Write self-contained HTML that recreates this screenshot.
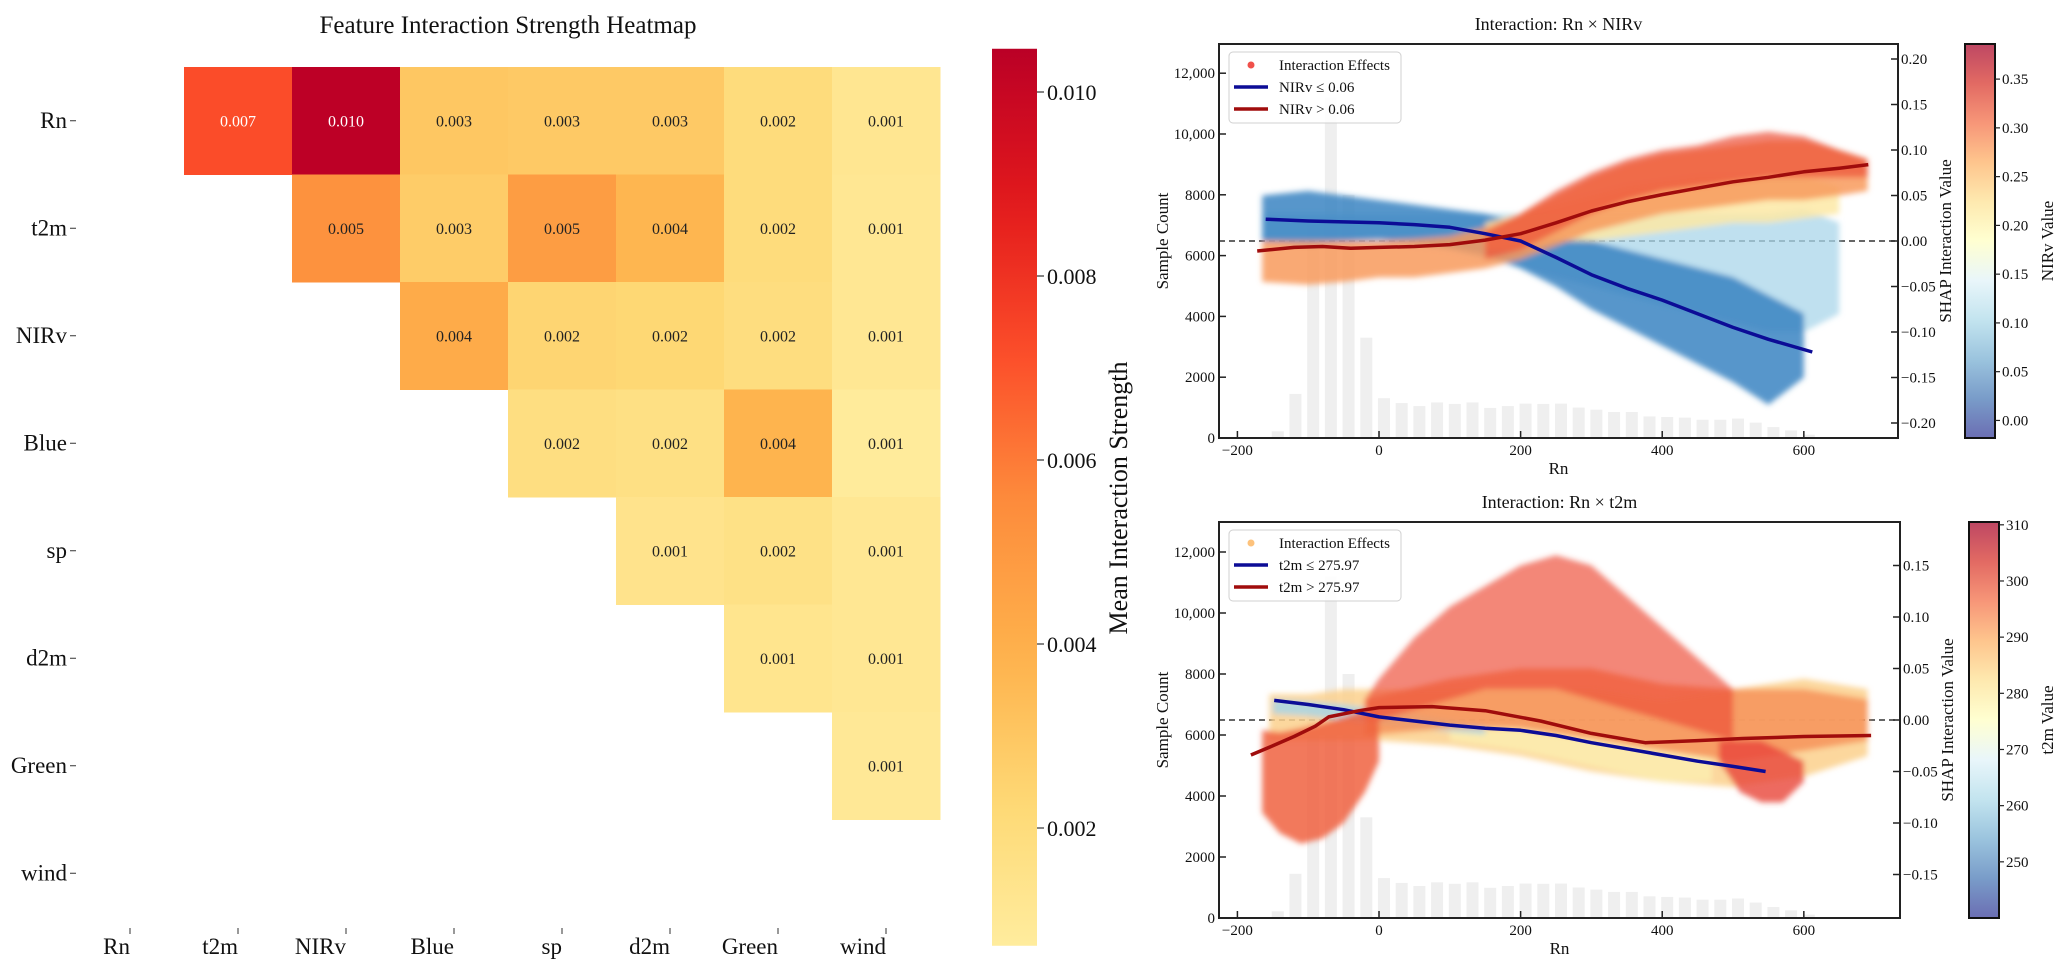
<!DOCTYPE html>
<html><head><meta charset="utf-8">
<style>
body{margin:0;background:#fff;}
svg{display:block;font-family:"Liberation Serif","DejaVu Serif",serif;}
</style></head>
<body>
<svg id="fig" width="2069" height="974" viewBox="0 0 2069 974">
<defs>
<filter id="soft" x="-5%" y="-5%" width="110%" height="110%"><feGaussianBlur stdDeviation="3"/></filter>
<linearGradient id="hmgrad" x1="0" y1="1" x2="0" y2="0"></linearGradient>
<linearGradient id="nirvgrad" x1="0" y1="1" x2="0" y2="0"></linearGradient>
<linearGradient id="t2mgrad" x1="0" y1="1" x2="0" y2="0"></linearGradient>
</defs>
</svg>
<script>
// ---------------- DATA ----------------
const hmFeatures = ['Rn','t2m','NIRv','Blue','sp','d2m','Green','wind'];
const hmRowRn    = [null,0.0072,0.0104,0.0030,0.0029,0.0029,0.0020,0.0012];
const hmRowT2m   = [null,null,0.0053,0.0028,0.0048,0.0037,0.0020,0.0011];
const hmRowNIRv  = [null,null,null,0.0042,0.0024,0.0023,0.0019,0.0011];
const hmRowBlue  = [null,null,null,null,0.0018,0.0017,0.0038,0.0008];
const hmRowSp    = [null,null,null,null,null,0.0014,0.0016,0.0011];
const hmRowD2m   = [null,null,null,null,null,null,0.0013,0.0011];
const hmRowGreen = [null,null,null,null,null,null,null,0.0010];
const hmRowWind  = [null,null,null,null,null,null,null,null];
const hmCbTicks  = [0.002,0.004,0.006,0.008,0.010];

const histCenters = [-143,-118,-93,-68,-43,-18,7,32,57,82,107,132,157,182,207,232,257,282,307,332,357,382,407,432,457,482,507,532,557,582,607];
const histCounts  = [220,1450,7000,11200,8000,3300,1310,1150,1050,1170,1120,1170,990,1050,1130,1120,1130,1000,930,855,855,710,690,670,600,600,640,505,360,250,110];

const countTicks = [0,2000,4000,6000,8000,10000,12000];
const countLabels = ['0','2000','4000','6000','8000','10,000','12,000'];
const rnTicks = [-200,0,200,400,600];
const rnLabels = ['\u2212200','0','200','400','600'];
const shapTopTicks = [-0.2,-0.15,-0.1,-0.05,0,0.05,0.1,0.15,0.2];
const shapBotTicks = [-0.15,-0.1,-0.05,0,0.05,0.1,0.15];
const nirvTicks = [0,0.05,0.1,0.15,0.2,0.25,0.3,0.35];
const t2mTicks = [250,260,270,280,290,300,310];

const nirvLowX = [-160,-100,-50,0,50,100,150,200,250,300,350,400,450,500,550,612];
const nirvLowY = [0.024,0.022,0.021,0.020,0.018,0.015,0.008,0.0,-0.018,-0.037,-0.052,-0.065,-0.080,-0.095,-0.108,-0.122];
const nirvHighX = [-172,-120,-80,-40,0,50,100,150,200,250,300,350,400,450,500,550,600,650,691];
const nirvHighY = [-0.011,-0.007,-0.006,-0.008,-0.007,-0.006,-0.004,0.001,0.008,0.020,0.033,0.043,0.051,0.058,0.065,0.070,0.076,0.080,0.084];
const topLightBlueX  = [-165,-100,-50,0,50,100,150,200,250,300,350,400,450,500,550,600,650];
const topLightBlueHi = [0.03,0.03,0.03,0.03,0.03,0.03,0.03,0.03,0.03,0.03,0.03,0.03,0.03,0.03,0.03,0.035,0.02];
const topLightBlueLo = [0.0,0.0,0.0,0.0,-0.005,-0.01,-0.02,-0.03,-0.04,-0.05,-0.06,-0.07,-0.08,-0.09,-0.1,-0.1,-0.08];
const topDarkBlueX  = [-165,-100,-50,0,50,100,150,200,250,300,350,400,450,500,550,600];
const topDarkBlueHi = [0.05,0.055,0.05,0.045,0.04,0.035,0.03,0.02,0.01,0.0,-0.01,-0.02,-0.03,-0.04,-0.06,-0.08];
const topDarkBlueLo = [0.0,-0.005,0.0,0.002,-0.002,-0.008,-0.015,-0.03,-0.05,-0.075,-0.095,-0.115,-0.135,-0.155,-0.18,-0.15];
const topYellowX  = [150,200,250,300,350,400,450,500,550,600,650];
const topYellowHi = [0.02,0.03,0.04,0.05,0.06,0.065,0.07,0.07,0.07,0.07,0.06];
const topYellowLo = [-0.01,-0.01,0.0,0.0,0.005,0.01,0.015,0.02,0.02,0.025,0.03];
const topOrangeX  = [-165,-100,-50,0,50,100,150,200,250,300,350,400,450,500,550,600,650,690];
const topOrangeHi = [0.0,0.0,0.0,0.0,0.002,0.005,0.015,0.03,0.05,0.07,0.085,0.095,0.1,0.105,0.11,0.11,0.1,0.09];
const topOrangeLo = [-0.045,-0.048,-0.045,-0.04,-0.04,-0.035,-0.03,-0.02,-0.005,0.01,0.02,0.03,0.035,0.04,0.045,0.045,0.05,0.055];
const topRedX  = [150,200,250,300,350,400,450,500,550,600,650,690];
const topRedHi = [0.01,0.03,0.055,0.075,0.09,0.1,0.105,0.115,0.12,0.115,0.1,0.09];
const topRedLo = [-0.02,-0.01,0.01,0.03,0.045,0.055,0.06,0.065,0.07,0.07,0.07,0.07];

const t2mLowX = [-148,-100,-50,0,50,100,150,200,250,300,350,400,450,500,546];
const t2mLowY = [0.019,0.015,0.010,0.003,-0.001,-0.005,-0.008,-0.010,-0.015,-0.022,-0.028,-0.034,-0.040,-0.045,-0.050];
const t2mHighX = [-181,-150,-120,-90,-71,-28,0,75,150,228,300,376,450,514,600,695];
const t2mHighY = [-0.034,-0.025,-0.016,-0.006,0.003,0.009,0.012,0.013,0.009,-0.001,-0.013,-0.022,-0.020,-0.018,-0.016,-0.015];
const botBaseX  = [-155,-100,-50,0,100,200,300,400,500,600,690];
const botBaseHi = [0.025,0.025,0.03,0.03,0.03,0.03,0.03,0.02,0.03,0.04,0.03];
const botBaseLo = [-0.02,-0.02,-0.02,-0.02,-0.025,-0.035,-0.05,-0.06,-0.065,-0.055,-0.035];
const botPaleX  = [100,200,300,400,470];
const botPaleHi = [0.0,-0.01,-0.02,-0.03,-0.035];
const botPaleLo = [-0.02,-0.03,-0.045,-0.06,-0.06];
const botBlueX  = [-150,-100,-50,0,50,100,150];
const botBlueHi = [0.02,0.018,0.015,0.01,0.005,0.0,-0.005];
const botBlueLo = [0.006,0.004,0.0,-0.004,-0.008,-0.011,-0.014];
const botOrangeX  = [-20,100,200,300,400,500,600,690];
const botOrangeHi = [0.02,0.04,0.05,0.05,0.035,0.03,0.03,0.02];
const botOrangeLo = [-0.015,-0.008,-0.008,-0.018,-0.03,-0.04,-0.03,-0.02];
const botArchX  = [-20,0,50,100,150,200,250,300,350,400,450,500];
const botArchHi = [0.02,0.04,0.08,0.11,0.13,0.15,0.16,0.15,0.12,0.09,0.06,0.03];
const botArchLo = [0.0,0.0,0.01,0.02,0.03,0.03,0.03,0.02,0.01,0.0,-0.01,-0.02];
const botLeftX  = [-165,-140,-110,-80,-50,-20,0];
const botLeftHi = [-0.01,-0.012,-0.008,-0.003,0.003,0.01,0.01];
const botLeftLo = [-0.09,-0.11,-0.12,-0.115,-0.1,-0.07,-0.04];
const botRightX  = [480,510,540,570,600];
const botRightHi = [-0.02,-0.02,-0.02,-0.03,-0.04];
const botRightLo = [-0.04,-0.07,-0.08,-0.08,-0.06];

// ---------------- HELPERS ----------------
const NS='http://www.w3.org/2000/svg';
const svg=document.getElementById('fig');
function mk(tag,attrs,parent){const e=document.createElementNS(NS,tag);for(const k in attrs)e.setAttribute(k,attrs[k]);(parent||svg).appendChild(e);return e;}
function txt(s,attrs,parent){const e=mk('text',attrs,parent);e.textContent=s;return e;}
function hex2rgb(h){return [parseInt(h.substr(1,2),16),parseInt(h.substr(3,2),16),parseInt(h.substr(5,2),16)];}
function cmap(stops,t,alpha){t=Math.max(0,Math.min(1,t));const p=t*(stops.length-1);const i=Math.min(Math.floor(p),stops.length-2);const f=p-i;
 const a=hex2rgb(stops[i]),b=hex2rgb(stops[i+1]);let c=[0,1,2].map(k=>a[k]+(b[k]-a[k])*f);
 if(alpha!==undefined)c=c.map(v=>v*alpha+255*(1-alpha));return 'rgb('+c.map(v=>Math.round(v)).join(',')+')';}
const YLORRD=['#ffffcc','#ffeda0','#fed976','#feb24c','#fd8d3c','#fc4e2a','#e31a1c','#bd0026','#800026'];
const RDYLBU_R=['#313695','#4575b4','#74add1','#abd9e9','#e0f3f8','#ffffbf','#fee090','#fdae61','#f46d43','#d73027','#a50026'];
function hmColor(v){return cmap(YLORRD,0.875-(0.0104-v)*76.6);}

// ---------------- HEATMAP ----------------
const hmRows=[hmRowRn,hmRowT2m,hmRowNIRv,hmRowBlue,hmRowSp,hmRowD2m,hmRowGreen,hmRowWind];
const HX0=76,HY0=67,CW=108,CH=107.5;
const hm=mk('g',{});


const hmTitle=txt('Feature Interaction Strength Heatmap',{x:508,y:33,'font-size':25,'text-anchor':'middle',fill:'#111'},hm);


hmRows.forEach((row,i)=>{row.forEach((v,j)=>{ if(v===null)return;
  const r=mk('rect',{x:HX0+j*CW,y:HY0+i*CH,width:CW+0.5,height:CH+0.5,fill:hmColor(v)},hm);
  
  
  const t=txt(v.toFixed(3),{x:HX0+j*CW+CW/2,y:HY0+i*CH+CH/2+5.5,'font-size':16,'text-anchor':'middle',fill:v>0.006?'#fff':'#222'},hm);
  
  
});});
hmFeatures.forEach((f,i)=>{
  const yc=HY0+i*CH+CH/2;
  const l=txt(f,{x:67,y:yc+7,'font-size':23,'text-anchor':'end',fill:'#111'},hm);
  
  
  mk('line',{x1:70,x2:76,y1:yc,y2:yc,stroke:'#333','stroke-width':1},hm);
  const xc=HX0+i*CW+CW/2;
  mk('line',{x1:xc,x2:xc,y1:928,y2:934,stroke:'#333','stroke-width':1},hm);
  const c=txt(f,{x:xc,y:954,'font-size':23,'text-anchor':'end',fill:'#111'},hm);
  
  
});
const hmCbTop=0.01047,hmCbBot=0.00072;
const hmCbY=v=>92+(0.010-v)*92000;
const hg=document.getElementById('hmgrad');
for(let k=0;k<=20;k++){const v=hmCbBot+(hmCbTop-hmCbBot)*k/20;mk('stop',{offset:(k*5)+'%','stop-color':hmColor(v)},hg);}
const hcb=mk('rect',{x:992,y:hmCbY(hmCbTop),width:45,height:hmCbY(hmCbBot)-hmCbY(hmCbTop),fill:'url(#hmgrad)'});


hmCbTicks.forEach(v=>{const y=hmCbY(v);mk('line',{x1:1037,x2:1044,y1:y,y2:y,stroke:'#333','stroke-width':1.2});
  const t=txt(v.toFixed(3),{x:1047,y:y+8,'font-size':22,fill:'#111'});
  
  });
const hcl=txt('Mean Interaction Strength',{x:0,y:0,'font-size':26,'text-anchor':'middle',fill:'#111',transform:'translate(1127,498) rotate(-90)'});



// ---------------- SCATTER CHARTS ----------------
const rnX=v=>1219+(v+226)*(679/959);
function drawChart(cfg){
  const g=mk('g',{});
  
  
  const L=1219,R=cfg.right,T=cfg.top,B=cfg.bottom;
  const cy=c=>B-c*cfg.cps; const sy=cfg.sy;
  const clipId=cfg.name+'-clip';
  const cp=mk('clipPath',{id:clipId},g);mk('rect',{x:L,y:T,width:R-L,height:B-T},cp);
  const plot=mk('g',{'clip-path':'url(#'+clipId+')'},g);
  histCenters.forEach((c,i)=>{const b=mk('rect',{x:rnX(c)-6,y:cy(histCounts[i]),width:12,height:histCounts[i]*cfg.cps,fill:'#efefef'},plot);
    
    });
  const z=mk('line',{x1:L,x2:R,y1:sy(0),y2:sy(0),stroke:'#333','stroke-width':1.5,'stroke-dasharray':'6,4'},plot);
  
  
  const bg=mk('g',{filter:'url(#soft)'},plot);
  cfg.bands.forEach(bd=>{
    const pts=bd.x.map((x,i)=>rnX(x).toFixed(1)+','+sy(bd.hi[i]).toFixed(1));
    for(let i=bd.x.length-1;i>=0;i--)pts.push(rnX(bd.x[i]).toFixed(1)+','+sy(bd.lo[i]).toFixed(1));
    const p=mk('polygon',{points:pts.join(' '),fill:bd.color,'fill-opacity':bd.op||0.85},bg);
    
    
  });
  cfg.lines.forEach(ln=>{
    const d=ln.x.map((x,i)=>(i?'L':'M')+rnX(x).toFixed(1)+','+sy(ln.y[i]).toFixed(1)).join(' ');
    const p=mk('path',{d:d,fill:'none',stroke:ln.color,'stroke-width':3.5,'stroke-linejoin':'round'},plot);
    
    
  });
  const fr=mk('rect',{x:L,y:T,width:R-L,height:B-T,fill:'none',stroke:'#222','stroke-width':2},g);
  
  
  countTicks.forEach((c,i)=>{const y=cy(c);mk('line',{x1:L,x2:L+7,y1:y,y2:y,stroke:'#222','stroke-width':1.5},g);
    const t=txt(countLabels[i],{x:L-4,y:y+5,'font-size':15,'text-anchor':'end',fill:'#111'},g);
    
    });
  const yl=txt('Sample Count',{x:0,y:0,'font-size':17,'text-anchor':'middle',fill:'#111',transform:'translate(1168,'+((T+B)/2)+') rotate(-90)'},g);
  
  
  rnTicks.forEach((v,i)=>{const x=rnX(v);mk('line',{x1:x,x2:x,y1:B,y2:B-7,stroke:'#222','stroke-width':1.5},g);
    const t=txt(rnLabels[i],{x:x,y:B+17,'font-size':15,'text-anchor':'middle',fill:'#111'},g);
    
    });
  const xl=txt('Rn',{x:(L+R)/2,y:B+36,'font-size':17,'text-anchor':'middle',fill:'#111'},g);
  
  
  cfg.shapTicks.forEach(v=>{const y=sy(v);mk('line',{x1:R,x2:R-7,y1:y,y2:y,stroke:'#222','stroke-width':1.5},g);
    const lab=(v<0?'\u2212':'')+Math.abs(v).toFixed(2);
    const t=txt(lab,{x:R+3,y:y+5,'font-size':15,fill:'#111'},g);
    
    });
  const rl=txt('SHAP Interaction Value',{x:0,y:0,'font-size':17,'text-anchor':'middle',fill:'#111',transform:'translate('+(R+53)+','+((T+B)/2)+') rotate(-90)'},g);
  
  
  const tt=txt(cfg.title,{x:(L+R)/2,y:T-14,'font-size':18,'text-anchor':'middle',fill:'#111'},g);
  
  
  const lg=mk('g',{},g);
  
  
  mk('rect',{x:1229,y:T+8,width:172,height:71,rx:4,fill:'#fff','fill-opacity':0.85,stroke:'#d0d0d0','stroke-width':1},lg);
  const ly=[T+21,T+43,T+65];
  mk('circle',{cx:1251,cy:ly[0],r:3.5,fill:cfg.dotColor},lg);
  const e0=txt('Interaction Effects',{x:1279,y:ly[0]+5,'font-size':15,fill:'#111'},lg);
  
  
  cfg.lines.forEach((ln,i)=>{mk('line',{x1:1234,x2:1268,y1:ly[i+1],y2:ly[i+1],stroke:ln.color,'stroke-width':3.5},lg);
    const e=txt(ln.legend,{x:1279,y:ly[i+1]+5,'font-size':15,fill:'#111'},lg);
    
    });
  const cb=cfg.cb;
  const grad=document.getElementById(cb.grad);
  RDYLBU_R.forEach((c,i)=>mk('stop',{offset:(i*10)+'%','stop-color':cmap([c,c],0,0.72)},grad));
  const cbr=mk('rect',{x:cb.x,y:T,width:30,height:B-T,fill:'url(#'+cb.grad+')',stroke:'#111','stroke-width':2},g);
  
  
  const cby=v=>B-(v-cb.min)/(cb.max-cb.min)*(B-T);
  cb.ticks.forEach(v=>{const y=cby(v);mk('line',{x1:cb.x+30,x2:cb.x+35,y1:y,y2:y,stroke:'#222','stroke-width':1.2},g);
    const t=txt(cb.fmt(v),{x:cb.x+37,y:y+5,'font-size':15,fill:'#111'},g);
    
    });
  const cl=txt(cb.label,{x:0,y:0,'font-size':17,'text-anchor':'middle',fill:'#111',transform:'translate(2053,'+((T+B)/2)+') rotate(-90)'},g);
  
  
}

drawChart({name:'rn-nirv-interaction-chart',title:'Interaction: Rn \u00d7 NIRv',right:1898,top:44,bottom:438,cps:0.0304,
  sy:s=>241-s*910,shapTicks:shapTopTicks,dotColor:'#f0504a',
  bands:[
    {x:topLightBlueX,hi:topLightBlueHi,lo:topLightBlueLo,color:'#a9d6ea',op:0.75,label:'scatter-nirv-mid-low'},
    {x:topDarkBlueX,hi:topDarkBlueHi,lo:topDarkBlueLo,color:'#3a84c2',label:'scatter-nirv-low'},
    {x:topYellowX,hi:topYellowHi,lo:topYellowLo,color:'#fde9a6',label:'scatter-nirv-mid'},
    {x:topOrangeX,hi:topOrangeHi,lo:topOrangeLo,color:'#f89a5c',label:'scatter-nirv-high'},
    {x:topRedX,hi:topRedHi,lo:topRedLo,color:'#ec5038',op:0.7,label:'scatter-nirv-highest'}],
  lines:[{x:nirvLowX,y:nirvLowY,color:'#0c0c96',label:'trend-nirv-low',legend:'NIRv \u2264 0.06'},
         {x:nirvHighX,y:nirvHighY,color:'#a00c0c',label:'trend-nirv-high',legend:'NIRv > 0.06'}],
  cb:{x:1965,grad:'nirvgrad',min:-0.018,max:0.386,ticks:nirvTicks,fmt:v=>v.toFixed(2),label:'NIRv Value'}});

drawChart({name:'rn-t2m-interaction-chart',title:'Interaction: Rn \u00d7 t2m',right:1900,top:522,bottom:918,cps:0.0305,
  sy:s=>720-s*1030,shapTicks:shapBotTicks,dotColor:'#fdc27c',
  bands:[
    {x:botBaseX,hi:botBaseHi,lo:botBaseLo,color:'#fcd08c',label:'scatter-t2m-mid'},
    {x:botPaleX,hi:botPaleHi,lo:botPaleLo,color:'#fdeeb0',label:'scatter-t2m-pale'},
    {x:botBlueX,hi:botBlueHi,lo:botBlueLo,color:'#a8d6e6',label:'scatter-t2m-low'},
    {x:botOrangeX,hi:botOrangeHi,lo:botOrangeLo,color:'#f7945a',label:'scatter-t2m-warm'},
    {x:botArchX,hi:botArchHi,lo:botArchLo,color:'#ee4e3a',op:0.68,label:'scatter-t2m-hot-arch'},
    {x:botLeftX,hi:botLeftHi,lo:botLeftLo,color:'#f0603e',label:'scatter-t2m-hot-left'},
    {x:botRightX,hi:botRightHi,lo:botRightLo,color:'#e8453a',op:0.8,label:'scatter-t2m-hot-right'}],
  lines:[{x:t2mLowX,y:t2mLowY,color:'#0c0c96',label:'trend-t2m-low',legend:'t2m \u2264 275.97'},
         {x:t2mHighX,y:t2mHighY,color:'#a00c0c',label:'trend-t2m-high',legend:'t2m > 275.97'}],
  cb:{x:1969,grad:'t2mgrad',min:240,max:310.5,ticks:t2mTicks,fmt:v=>String(v),label:'t2m Value'}});
</script>
</body></html>
